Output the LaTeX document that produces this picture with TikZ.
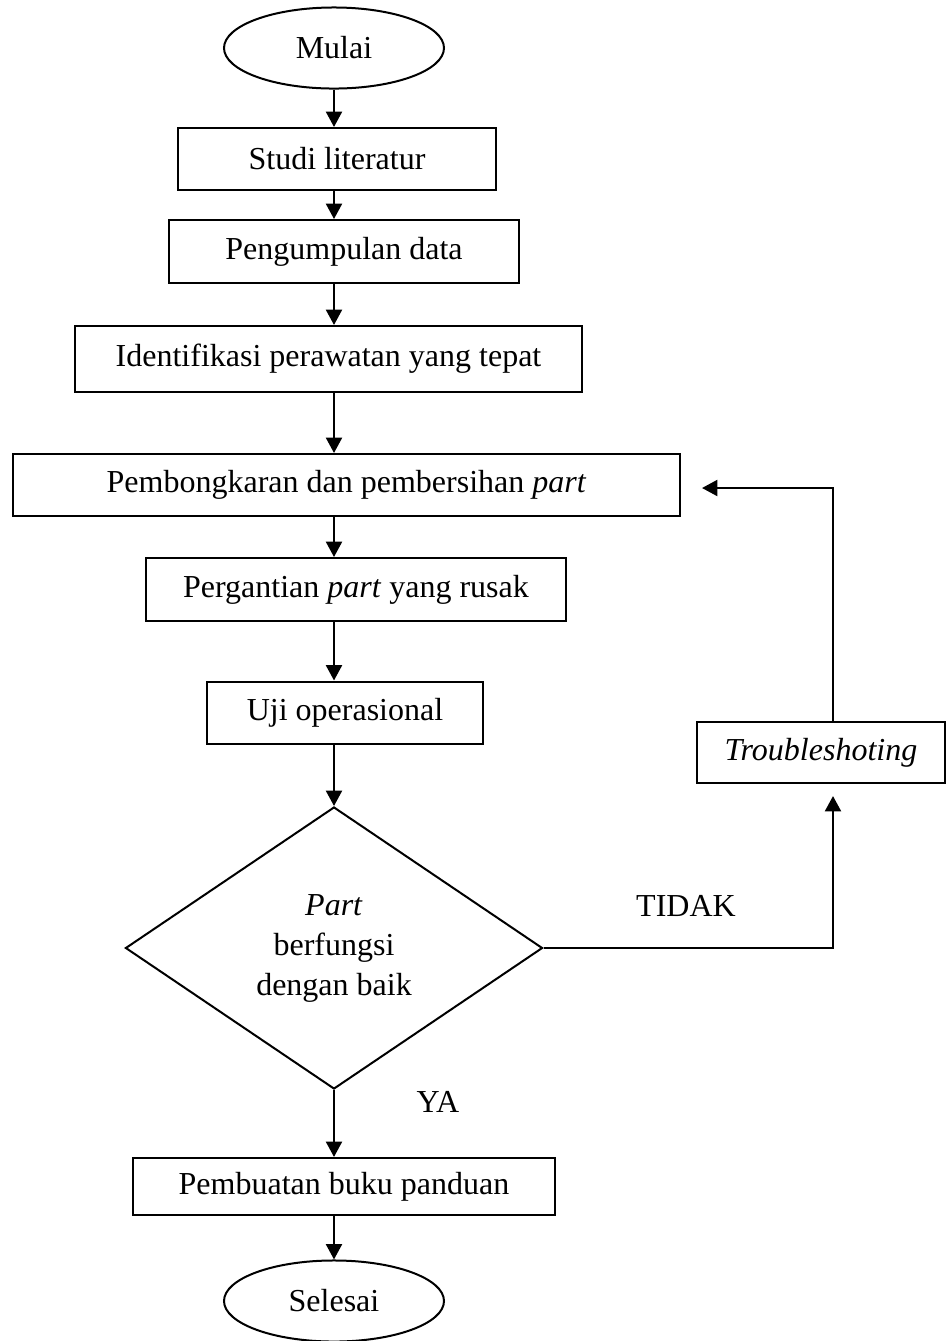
\documentclass[tikz,border=0pt]{standalone}
\usepackage{fontspec}
\setmainfont{Liberation Serif}
\usetikzlibrary{shapes.geometric,arrows.meta}

\begin{document}
\begin{tikzpicture}[x=0.375pt,y=-0.375pt,-{Triangle[length=5.8pt,width=6pt]},line width=0.9pt,
    every node/.style={font=\fontsize{12}{15}\selectfont},
    proc/.style={rectangle,draw=black,line width=0.75pt,inner sep=0pt},
    term/.style={ellipse,draw=black,line width=0.75pt,inner sep=0pt,minimum width=82.5pt,minimum height=30.4pt},
    cek/.style={diamond,draw=black,line width=0.75pt,inner sep=0pt,align=center,minimum width=156.4pt,minimum height=105.75pt}]

\useasboundingbox (0,0) rectangle (947,1341);

\node[term] (mulai) at (334,48) {Mulai};
\node[proc, minimum width=119.25pt, minimum height=23.25pt] (studi) at (337,159) {Studi literatur};
\node[proc, minimum width=131.25pt, minimum height=23.6pt] (data) at (344,251.5) {Pengumpulan data};
\node[proc, minimum width=190.1pt, minimum height=24.75pt] (ident) at (328.5,359) {Identifikasi perawatan yang tepat};
\node[proc, minimum width=250.1pt, minimum height=23.25pt] (bongkar) at (346.5,485) {Pembongkaran dan pembersihan \textit{part}};
\node[proc, minimum width=157.5pt, minimum height=23.6pt] (ganti) at (356,589.5) {Pergantian \textit{part} yang rusak};
\node[proc, minimum width=103.5pt, minimum height=23.25pt] (uji) at (345,712.5) {Uji operasional};
\node[cek] (cek) at (334,948) {\textit{Part}\\berfungsi\\dengan baik};
\node[proc, minimum width=93pt, minimum height=22.9pt] (trouble) at (821,752.5) {\textit{Troubleshoting}};
\node[proc, minimum width=158.25pt, minimum height=21.4pt] (panduan) at (344,1186.5) {Pembuatan buku panduan};
\node[term] (selesai) at (334,1301) {Selesai};

\node (tidak) at (686,906) {TIDAK};
\node (ya) at (438,1102) {YA};

\coordinate (ax) at (334,0);
\coordinate (naik) at (833,796);
\coordinate (balik) at (702,488);

\path
(mulai.south) edge (studi.north -| ax)
(studi.south -| ax) edge (data.north -| ax)
(data.south -| ax) edge (ident.north -| ax)
(ident.south -| ax) edge (bongkar.north -| ax)
(bongkar.south -| ax) edge (ganti.north -| ax)
(ganti.south -| ax) edge (uji.north -| ax)
(uji.south -| ax) edge (cek.north)
(cek.south) edge (panduan.north -| ax)
(panduan.south -| ax) edge (selesai.north);

\draw (cek.east) -- (cek.east -| naik) -- (naik);
\draw (trouble.north -| naik) -- (naik |- balik) -- (balik);

\end{tikzpicture}
\end{document}
